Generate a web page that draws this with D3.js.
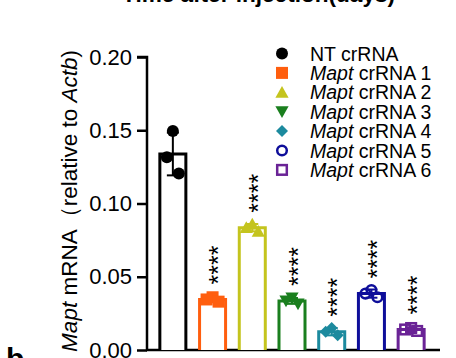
<!DOCTYPE html>
<html><head><meta charset="utf-8">
<script src="https://cdn.jsdelivr.net/npm/d3@7"></script>
<style>body{margin:0;background:#fff}svg{display:block}text{font-family:"Liberation Sans",Arial,sans-serif}</style>
</head><body>
<script>
const groups = ["NT crRNA","Mapt crRNA 1","Mapt crRNA 2","Mapt crRNA 3","Mapt crRNA 4","Mapt crRNA 5","Mapt crRNA 6"];
const means = [0.1338, 0.0345, 0.0835, 0.0335, 0.0125, 0.0385, 0.0140];
const sds = [0.0146, 0.0015, 0.0025, 0.0020, 0.0025, 0.0028, 0.0015];
const points = [
  [0.1495, 0.1315, 0.1205],
  [0.0360, 0.0345, 0.0330],
  [0.0860, 0.0835, 0.0810],
  [0.0355, 0.0335, 0.0315],
  [0.0150, 0.0125, 0.0100],
  [0.0410, 0.0385, 0.0360],
  [0.0150, 0.0140, 0.0130]
];
const sig = ["", "****","****","****","****","****","****"];
const yTicks = [0, 0.05, 0.10, 0.15, 0.20];
const colors = ["#000000","#FF5E0E","#C4C41E","#1A7F1E","#1C8A9E","#0E0E9A","#6A2396"];
const shapes = ["circle","square","triangle","triangleDown","diamond","circleOpen","squareOpen"];

const W=456,H=358;
const svg=d3.select("body").append("svg").attr("width",W).attr("height",H);

const y=d3.scaleLinear().domain([0,0.20]).range([350,57]);
const x=d3.scaleBand().domain(groups).range([153,431]).paddingInner(0.345).paddingOuter(0.1725);

// top cropped title
svg.append("text").attr("x",122).attr("y",1.5).attr("textLength",273).attr("lengthAdjust","spacingAndGlyphs")
  .attr("font-size",22).attr("font-weight","bold").text("Time after injection(days)");

// panel letter
svg.append("text").attr("x",6).attr("y",369).attr("font-size",30).attr("font-weight","bold").text("b");

// y axis
const yAxis=d3.axisLeft(y).tickValues(yTicks).tickFormat(d3.format(".2f")).tickSize(10).tickPadding(5);
const gy=svg.append("g").attr("transform","translate(147,0)").call(yAxis);
gy.select(".domain").attr("stroke","#000").attr("stroke-width",2.5).attr("d","M-10,57H0V350");
gy.selectAll(".tick line").attr("stroke","#000").attr("stroke-width",2.5);
gy.selectAll(".tick text").attr("font-size",22).attr("fill","#000").attr("font-family","Liberation Sans, Arial, sans-serif");
// x axis line
svg.append("line").attr("x1",146).attr("x2",440).attr("y1",350).attr("y2",350).attr("stroke","#000").attr("stroke-width",2.5);

// y label
const yl=svg.append("text").attr("transform","translate(77,50) rotate(-90)").attr("text-anchor","end").attr("font-size",22.5);
yl.append("tspan").attr("font-style","italic").text("Mapt");
yl.append("tspan").text(" mRNA（relative to ");
yl.append("tspan").attr("font-style","italic").text("Actb");
yl.append("tspan").text(")");

function sym(g, shape, cx, cy, s, color){
  const h=s/2;
  if(shape==="circle") g.append("circle").attr("cx",cx).attr("cy",cy).attr("r",h).attr("fill",color);
  else if(shape==="square") g.append("rect").attr("x",cx-h).attr("y",cy-h).attr("width",s).attr("height",s).attr("fill",color);
  else if(shape==="triangle") g.append("path").attr("d",`M${cx},${cy-h*1.05}L${cx+h*1.1},${cy+h*0.9}L${cx-h*1.1},${cy+h*0.9}Z`).attr("fill",color);
  else if(shape==="triangleDown") g.append("path").attr("d",`M${cx},${cy+h*1.05}L${cx+h*1.1},${cy-h*0.9}L${cx-h*1.1},${cy-h*0.9}Z`).attr("fill",color);
  else if(shape==="diamond") g.append("path").attr("d",`M${cx},${cy-h}L${cx+h},${cy}L${cx},${cy+h}L${cx-h},${cy}Z`).attr("fill",color);
  else if(shape==="circleOpen") g.append("circle").attr("cx",cx).attr("cy",cy).attr("r",h-1.2).attr("fill","none").attr("stroke",color).attr("stroke-width",2.5);
  else if(shape==="squareOpen") g.append("rect").attr("x",cx-h+1.2).attr("y",cy-h+1.2).attr("width",s-2.4).attr("height",s-2.4).attr("fill","none").attr("stroke",color).attr("stroke-width",2.5);
}

// bars
const bw=x.bandwidth();
const starFs=25;
groups.forEach((gname,i)=>{
  const g=svg.append("g");
  const x0=x(gname), xc=x0+bw/2, c=colors[i];
  g.append("path").attr("d",`M${x0},${y(0)}V${y(means[i])}H${x0+bw}V${y(0)}`)
    .attr("fill","#fff").attr("stroke",c).attr("stroke-width",3);
  // error bar
  g.append("line").attr("x1",xc).attr("x2",xc).attr("y1",y(means[i]-sds[i])).attr("y2",y(means[i]+sds[i])).attr("stroke",c).attr("stroke-width",2);
  [means[i]-sds[i],means[i]+sds[i]].forEach(v=>g.append("line").attr("x1",xc-6).attr("x2",xc+6).attr("y1",y(v)).attr("y2",y(v)).attr("stroke",c).attr("stroke-width",2));
  const offs=[0,-6,6];
  points[i].forEach((v,j)=>sym(g,shapes[i],xc+offs[j],y(v),12,c));
  if(sig[i]){
    const top=y(means[i])-15;
    g.append("text").attr("transform",`translate(${xc+starFs*0.58},${top}) rotate(-90)`)
      .attr("font-size",starFs).attr("fill","#000").text(sig[i]);
  }
});

// legend
const lg=svg.append("g");
groups.forEach((gname,i)=>{
  const cy=53.5+i*19.4;
  sym(lg,shapes[i],282,cy,12,colors[i]);
  const t=lg.append("text").attr("x",310).attr("y",cy+7).attr("font-size",19.5).attr("fill","#000");
  if(gname.startsWith("Mapt")){
    t.append("tspan").attr("font-style","italic").text("Mapt");
    t.append("tspan").text(gname.slice(4));
  } else t.text(gname);
});
</script>
</body></html>
